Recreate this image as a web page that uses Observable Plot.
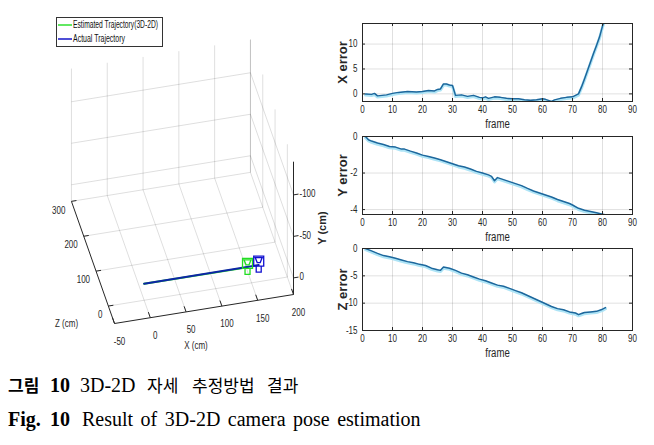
<!DOCTYPE html>
<html><head><meta charset="utf-8">
<script src="https://cdn.jsdelivr.net/npm/d3@7"></script>
<script src="https://cdn.jsdelivr.net/npm/@observablehq/plot@0.6"></script>
<style>
html,body{margin:0;padding:0;background:#fff;}
#root{position:relative;width:654px;height:445px;overflow:hidden;background:#fff;}
#root > *{position:absolute;}
</style></head><body><div id="root"></div>
<script>
// ---------------- data ----------------
const frameTicks = [0,10,20,30,40,50,60,70,80,90];

const xErrFrames = [1,3,4,5,8,10,12,15,18,20,22,24,25,26,27,28,29,30,31,33,35,37,39,40,41,42,44,46,48,50,52,54,56,58,60,61,63,64,66,68,70,72,73,74,75,76,77,78,79,80,81];
const xErrValues = [0.0,-0.1,0.1,-0.4,-0.2,0.1,0.3,0.5,0.4,0.5,0.7,0.6,0.9,1.0,2.0,2.0,1.8,1.7,-0.3,-0.2,-0.5,-0.3,-0.7,-0.8,-0.6,-0.9,-0.6,-0.7,-0.9,-1.0,-1.0,-1.2,-1.3,-1.2,-1.0,-1.1,-1.5,-1.2,-0.9,-0.7,-0.6,0.0,1.4,3.0,4.7,6.4,8.1,9.7,11.4,13.6,15.6];
const xErrTicks = [0,5,10];
const xErrDomain = [-1.53, 14.13];

const yErrFrames = [1,2,3,5,7,9,11,13,14,16,18,20,22,24,26,28,30,32,34,36,38,40,42,43,44,45,47,49,51,53,55,57,59,61,63,65,67,69,70,72,74,76,78,80,81];
const yErrValues = [0,-0.18,-0.25,-0.36,-0.44,-0.55,-0.58,-0.69,-0.69,-0.8,-0.9,-1.02,-1.09,-1.18,-1.27,-1.38,-1.49,-1.6,-1.67,-1.78,-1.91,-2.0,-2.1,-2.18,-2.42,-2.25,-2.36,-2.47,-2.58,-2.69,-2.84,-2.98,-3.09,-3.2,-3.31,-3.45,-3.56,-3.67,-3.75,-3.93,-4.04,-4.11,-4.18,-4.25,-4.29];
const yErrTicks = [-4,-2,0];
const yErrDomain = [-4.27, 0];

const zErrFrames = [1,3,5,7,9,11,13,15,17,19,21,23,25,26,27,29,31,33,35,37,39,41,43,45,47,49,51,53,55,57,59,61,63,65,67,69,71,72,73,74,76,78,80,81];
const zErrValues = [0,-0.43,-0.9,-1.3,-1.5,-1.8,-2.1,-2.4,-2.6,-2.9,-3.1,-3.6,-3.9,-4.0,-3.4,-3.6,-4.0,-4.5,-4.8,-5.2,-5.6,-5.9,-6.3,-6.7,-6.9,-7.3,-7.7,-8.1,-8.6,-9.1,-9.6,-10.1,-10.6,-11.0,-11.2,-11.6,-11.8,-12.1,-11.9,-11.7,-11.6,-11.5,-11.1,-10.8];
const zErrTicks = [-15,-10,-5,0];
const zErrDomain = [-15, 0];

// 3D trajectory plot
const xTicks3d = [-50,0,50,100,150,200];
const yTicks3d = [-100,-50,0];
const zTicks3d = [0,100,200,300];
const xLim3d = [-50,200];
const yLim3d = [-140,20];
const zLim3d = [-50,300];
const actualX = [0,160], actualY = [0,0], actualZ = [0,0];
const estimX = [0,143], estimY = [0,-3], estimZ = [0,-8];
const legendLabels = ["Estimated Trajectory(3D-2D)", "Actual Trajectory"];

const caption1 = ["그림", "10", "3D-2D", "자세", "추정방법", "결과"];
const caption2 = ["Fig.", "10", "Result of 3D-2D camera pose estimation"];

// ---------------- styles ----------------
const SANS = '"Liberation Sans",Arial,sans-serif';
const INK = "#262626";
const NARROW_FACTOR = 0.8;
const root = document.getElementById("root");

// ---------------- error panels ----------------
function panel({frames, values, domain, ticks, label, top, boxTop, boxBottom, bottom}) {
  const width = 324, ml = 32, mr = 22;
  const pw = width - ml - mr, ph = boxBottom - boxTop;
  const data = frames.map((f, i) => ({f, v: values[i]}));
  const chart = Plot.plot({
    width, height: bottom - top,
    marginLeft: ml, marginRight: mr, marginTop: boxTop - top, marginBottom: bottom - boxBottom,
    style: {fontFamily: SANS, fontSize: "10px", color: INK, background: "transparent", overflow: "visible"},
    x: {domain: [0, 90], axis: null},
    y: {domain, axis: null},
    marks: [
      Plot.gridX(frameTicks, {stroke: "#000", strokeOpacity: 0.12}),
      Plot.gridY(ticks, {stroke: "#000", strokeOpacity: 0.12}),
      Plot.line(data, {x: "f", y: "v", stroke: "#aee4f6", strokeWidth: 3, dy: 1.2, clip: true}),
      Plot.line(data, {x: "f", y: "v", stroke: "#1d679c", strokeWidth: 1.5, clip: true}),
      Plot.tickX(frameTicks, {x: d => d, insetTop: ph - 3, stroke: INK}),
      Plot.tickX(frameTicks, {x: d => d, insetBottom: ph - 3, stroke: INK}),
      Plot.tickY(ticks, {y: d => d, insetRight: pw - 3, stroke: INK}),
      Plot.tickY(ticks, {y: d => d, insetLeft: pw - 3, stroke: INK}),
      Plot.frame({stroke: INK}),
      Plot.axisX({ticks: frameTicks, tickFormat: String, tickSize: 0, tickPadding: 4, fontSize: 10, fill: INK, label: null}),
      Plot.axisY({ticks, tickFormat: String, tickSize: 0, tickPadding: 5, fontSize: 10, fill: INK, label: null}),
      Plot.text([label], {text: d => d, frameAnchor: "left", textAnchor: "middle", dx: -20, rotate: -90, fontWeight: "bold", fontSize: 13, fill: INK}),
      Plot.text(["frame"], {text: d => d, frameAnchor: "bottom", dy: 26, fontSize: 12, fill: INK})
    ]
  });
  chart.style.left = "330px";
  chart.style.top = top + "px";
  root.appendChild(chart);
}
panel({frames: xErrFrames, values: xErrValues, domain: xErrDomain, ticks: xErrTicks, label: "X error", top: 0, boxTop: 23, boxBottom: 101, bottom: 133});
panel({frames: yErrFrames, values: yErrValues, domain: yErrDomain, ticks: yErrTicks, label: "Y error", top: 133, boxTop: 136, boxBottom: 214, bottom: 247});
panel({frames: zErrFrames, values: zErrValues, domain: zErrDomain, ticks: zErrTicks, label: "Z error", top: 247, boxTop: 248, boxBottom: 330, bottom: 362});

// ---------------- 3D view ----------------
const view = {x0: 114, y0: 323, ex: [0.716, -0.116], ez: [-0.123, -0.349], ey: [0, 0.83]};
function proj(X, Y, Z) {
  const dx = X - xLim3d[0], dz = Z - zLim3d[0], dy = Y - yLim3d[1];
  return [view.x0 + view.ex[0]*dx + view.ez[0]*dz + view.ey[0]*dy,
          view.y0 + view.ex[1]*dx + view.ez[1]*dz + view.ey[1]*dy];
}
const [xa, xb] = xLim3d, [ya, yb] = yLim3d, [za, zb] = zLim3d;
const grid = [];
for (const X of xTicks3d) {
  if (X !== xa) grid.push([[X, yb, za], [X, yb, zb]]);
  grid.push([[X, yb, zb], [X, ya, zb]]);
}
for (const Z of zTicks3d) {
  grid.push([[xa, yb, Z], [xb, yb, Z]]);
  grid.push([[xb, yb, Z], [xb, ya, Z]]);
}
for (const Y of yTicks3d) {
  grid.push([[xa, Y, zb], [xb, Y, zb]]);
  grid.push([[xb, Y, za], [xb, Y, zb]]);
}
const axes3d = [[[xa, yb, za], [xb, yb, za]], [[xa, yb, za], [xa, yb, zb]], [[xb, yb, za], [xb, ya, za]]];
const ticks3d = [
  ...xTicks3d.map(X => [[X, yb, za], [X, yb, za + 16]]),
  ...zTicks3d.map(Z => [[xa, yb, Z], [xa + 7, yb, Z]]),
  ...yTicks3d.map(Y => [[xb, Y, za], [xb + 7, Y, za]])
];
const seg = (extra) => Object.assign({
  x1: d => proj(...d[0])[0], y1: d => proj(...d[0])[1],
  x2: d => proj(...d[1])[0], y2: d => proj(...d[1])[1]
}, extra);
const path = (X, Y, Z) => X.map((x, i) => [x, Y[i], Z[i]]);
const actualPath = path(actualX, actualY, actualZ);
const estimPath = path(estimX, estimY, estimZ);
const px = d => proj(...d)[0], py = d => proj(...d)[1];

const cameraSymbol = {
  draw(ctx, size) {
    const k = Math.sqrt(size / Math.PI) / 5;
    const rect = (x0, y0, x1, y1) => { ctx.moveTo(x0*k, y0*k); ctx.lineTo(x1*k, y0*k); ctx.lineTo(x1*k, y1*k); ctx.lineTo(x0*k, y1*k); ctx.closePath(); };
    rect(-5, -9, 5, 1);
    ctx.moveTo(-3.5*k, -7.5*k); ctx.lineTo(3.5*k, -7.5*k); ctx.lineTo(1.5*k, -2.5*k); ctx.lineTo(-1.5*k, -2.5*k); ctx.closePath();
    rect(-2.5, 1, 2.5, 7);
  }
};

const chart3d = Plot.plot({
  width: 330, height: 360, margin: 0,
  style: {fontFamily: SANS, fontSize: "10px", color: INK, background: "transparent", overflow: "visible"},
  x: {domain: [0, 330], range: [0, 330], axis: null},
  y: {domain: [0, 360], range: [0, 360], axis: null},
  marks: [
    Plot.link(grid, seg({stroke: "#000", strokeOpacity: 0.13})),
    Plot.link(axes3d, seg({stroke: INK, strokeWidth: 1})),
    Plot.link(ticks3d, seg({stroke: INK, strokeWidth: 1})),
    Plot.text(xTicks3d, {x: X => proj(X, yb, za)[0], y: X => proj(X, yb, za)[1], text: String, dx: 5, dy: 18, fill: INK}),
    Plot.text(zTicks3d, {x: Z => proj(xa, yb, Z)[0], y: Z => proj(xa, yb, Z)[1], text: String, dx: -6, dy: 9, textAnchor: "end", fill: INK}),
    Plot.text(yTicks3d, {x: Y => proj(xb, Y, za)[0], y: Y => proj(xb, Y, za)[1], text: String, dx: 6, dy: -1, textAnchor: "start", fill: INK}),
    Plot.text(["X (cm)"], {x: () => proj(75, yb, za)[0], y: () => proj(75, yb, za)[1], text: d => d, dx: -8, dy: 37, fill: INK}),
    Plot.text(["Z (cm)"], {x: () => proj(xa, yb, za)[0], y: () => proj(xa, yb, za)[1], text: d => d, dx: -48, dy: 0, fill: INK}),
    Plot.text(["Y (cm)"], {x: () => proj(xb, -60, za)[0], y: () => proj(xb, -60, za)[1], text: d => d, dx: 29, rotate: -90, fontWeight: "bold", fontSize: 11, fill: INK}),
    Plot.line(estimPath, {x: px, y: py, stroke: "#22dd22", strokeWidth: 2}),
    Plot.line(actualPath, {x: px, y: py, stroke: "#0d25a6", strokeWidth: 2}),
    Plot.dot([estimPath[estimPath.length - 1]], {x: px, y: py, symbol: cameraSymbol, r: 5, fill: "none", stroke: "#22dd22", strokeWidth: 1.3}),
    Plot.dot([actualPath[actualPath.length - 1]], {x: px, y: py, symbol: cameraSymbol, r: 5, fill: "none", stroke: "#1010d0", strokeWidth: 1.3})
  ]
});
chart3d.style.left = "0px";
chart3d.style.top = "0px";
root.appendChild(chart3d);

// ---------------- narrow the horizontal figure text (the source figure is condensed) ----------------
for (const svg of [...root.querySelectorAll("svg")]) {
  for (const t of svg.querySelectorAll("text")) {
    const tr = t.getAttribute("transform") || "";
    if (/rotate\(-90/.test(tr)) continue;
    if (t.querySelector("tspan")) continue;
    const w = t.getComputedTextLength();
    if (w > 0) {
      t.setAttribute("textLength", (w * NARROW_FACTOR).toFixed(2));
      t.setAttribute("lengthAdjust", "spacingAndGlyphs");
    }
  }
}

// ---------------- legend ----------------
const legendColors = ["#2ee02e", "#1515c8"];
const legendLens = [85, 52];
const lg = d3.create("svg").attr("width", 108).attr("height", 31).style("left", "56px").style("top", "17px").style("overflow", "visible");
lg.append("rect").attr("x", 0.5).attr("y", 0.5).attr("width", 106).attr("height", 29).attr("fill", "#fff").attr("stroke", "#333");
legendLabels.forEach((t, i) => {
  const cy = 8 + i * 14;
  lg.append("line").attr("x1", 2).attr("x2", 16).attr("y1", cy).attr("y2", cy).attr("stroke", legendColors[i]).attr("stroke-width", 1.5);
  lg.append("text").attr("x", 17).attr("y", cy + 3.4).attr("font-family", SANS).attr("font-size", 10).attr("fill", "#111")
    .attr("textLength", legendLens[i]).attr("lengthAdjust", "spacingAndGlyphs").text(t);
});
root.appendChild(lg.node());

// ---------------- caption ----------------
const KR = '"Noto Sans CJK KR",sans-serif';
const SERIF = '"Liberation Serif","DejaVu Serif",serif';
const cap = d3.create("svg").attr("width", 654).attr("height", 85).style("left", "0px").style("top", "360px");
const t1 = cap.append("text").attr("y", 32).attr("fill", "#000");
const c1 = [
  {x: 8, font: KR, size: 17, weight: 700},
  {x: 50, font: SERIF, size: 20, weight: 700},
  {x: 80, font: SERIF, size: 20, weight: 400},
  {x: 147, font: KR, size: 17, weight: 400},
  {x: 192, font: KR, size: 17, weight: 400},
  {x: 267, font: KR, size: 17, weight: 400}
];
caption1.forEach((s, i) => t1.append("tspan").attr("x", c1[i].x).attr("font-family", c1[i].font).attr("font-size", c1[i].size).attr("font-weight", c1[i].weight).text(s));
const t2 = cap.append("text").attr("y", 66).attr("fill", "#000").attr("font-family", SERIF).attr("font-size", 20);
const c2 = [{x: 8, weight: 700}, {x: 50, weight: 700}, {x: 82, weight: 400}];
caption2.forEach((s, i) => t2.append("tspan").attr("x", c2[i].x).attr("font-weight", c2[i].weight).attr("word-spacing", i === 2 ? 2.5 : 0).text(s));
root.appendChild(cap.node());
</script></body></html>
